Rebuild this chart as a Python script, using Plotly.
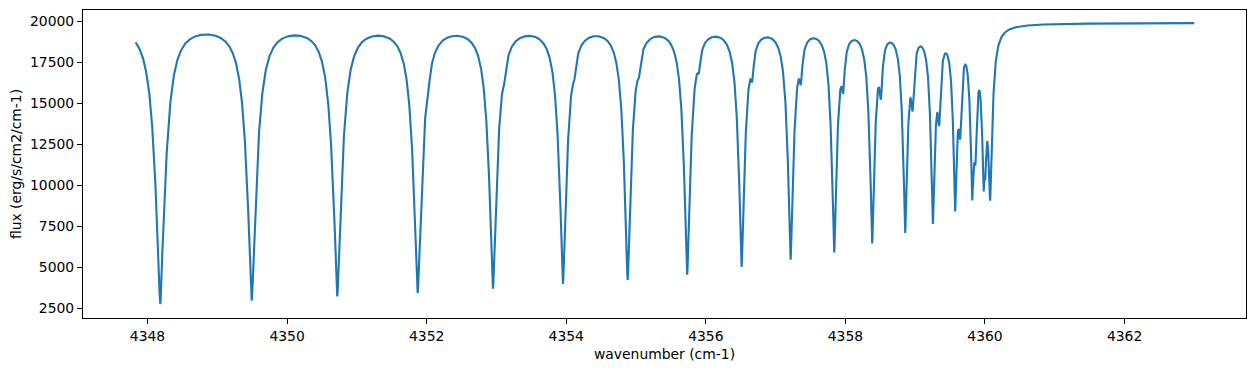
import numpy as np
import plotly.graph_objects as go

# ---- data ----
# strong absorption lines: centre (cm-1), flux at the bottom of each dip,
# and half width (cm-1) judged from the width of each dip / arch
strong_center = [4348.183, 4349.493, 4350.719, 4351.871, 4352.950, 4353.953,
                 4354.880, 4355.733, 4356.513, 4357.215, 4357.840, 4358.384,
                 4358.857, 4359.254, 4359.573, 4359.817, 4359.980, 4360.074]
strong_min = [2744, 2945, 3207, 3414, 3677, 3964, 4208, 4532, 5001, 5447,
              5893, 6433, 7076, 7625, 8394, 9065, 9615, 9047]
strong_width = [0.104, 0.100, 0.095, 0.090, 0.084, 0.079, 0.074, 0.069, 0.064,
                0.060, 0.055, 0.052, 0.048, 0.045, 0.041, 0.038, 0.035, 0.045]
# weak lines (small notches on the wings): centre, depth, half width
weak_center = [4352.023, 4353.112, 4354.115, 4355.041, 4355.901, 4356.665,
               4357.362, 4357.968, 4358.509, 4358.963, 4359.344, 4359.645,
               4359.865, 4360.006]
weak_depth = [600, 700, 800, 900, 1000, 1500, 1800, 2200, 2700, 3200, 3800,
              4200, 4500, 2500]
weak_width = [0.025] * 13 + [0.015]
continuum = 19900
x_start, x_end = 4347.83, 4363.0

# ---- line-shape settings: broad component + sharp core ----
CORE_WEIGHT, CORE_SCALE = 0.2, 0.22


def lorentz(x, c, g):
    x = np.asarray(x, dtype=float)[:, None]
    return 1.0 / (1.0 + ((x - np.asarray(c)[None, :]) / np.asarray(g)[None, :]) ** 2)


def strong_profile(x, c, g):
    g = np.asarray(g)
    return ((1 - CORE_WEIGHT) * lorentz(x, c, g)
            + CORE_WEIGHT * lorentz(x, c, g * CORE_SCALE))


sc = np.array(strong_center)
wc = np.array(weak_center)
# weak-line absorption is given; strong-line depths are solved so that each
# dip bottoms out at the flux
weak_at_strong = (lorentz(sc, wc, weak_width) * np.array(weak_depth)).sum(axis=1)
M = strong_profile(sc, sc, strong_width)
strong_depth = np.linalg.solve(M, continuum - np.array(strong_min) - weak_at_strong)

x = np.union1d(np.arange(x_start, x_end, 0.002), np.concatenate([sc, wc]))
x = x[(x >= x_start) & (x <= x_end)]
flux = (continuum
        - (strong_profile(x, sc, strong_width) * strong_depth).sum(axis=1)
        - (lorentz(x, wc, weak_width) * np.array(weak_depth)).sum(axis=1))

FONT = "DejaVu Sans"
fig = go.Figure(go.Scatter(x=x, y=flux, mode="lines",
                           line=dict(color="#1f77b4", width=2.1),
                           hoverinfo="skip"))
axis_common = dict(showgrid=False, zeroline=False, showline=True, mirror=True,
                   linecolor="black", linewidth=1, ticks="outside", ticklen=5,
                   tickwidth=1, tickcolor="black",
                   tickfont=dict(family=FONT, size=13.9, color="black"),
                   title_font=dict(family=FONT, size=13.9, color="black"))
fig.update_xaxes(range=[4347.076, 4363.74], tick0=4348, dtick=2,
                 title=dict(text="wavenumber (cm-1)", standoff=6), **axis_common)
fig.update_yaxes(range=[1890, 20683], tick0=2500, dtick=2500, tickformat="d",
                 title=dict(text="flux (erg/s/cm2/cm-1)", standoff=6), **axis_common)
# the page body has an 8 px margin, so the figure is 8 px smaller each way
fig.update_layout(width=1247, height=363, margin=dict(l=75, r=9, t=2, b=53),
                  paper_bgcolor="white", plot_bgcolor="white", showlegend=False,
                  font=dict(family=FONT, color="black"))
fig.write_html("out.html")
